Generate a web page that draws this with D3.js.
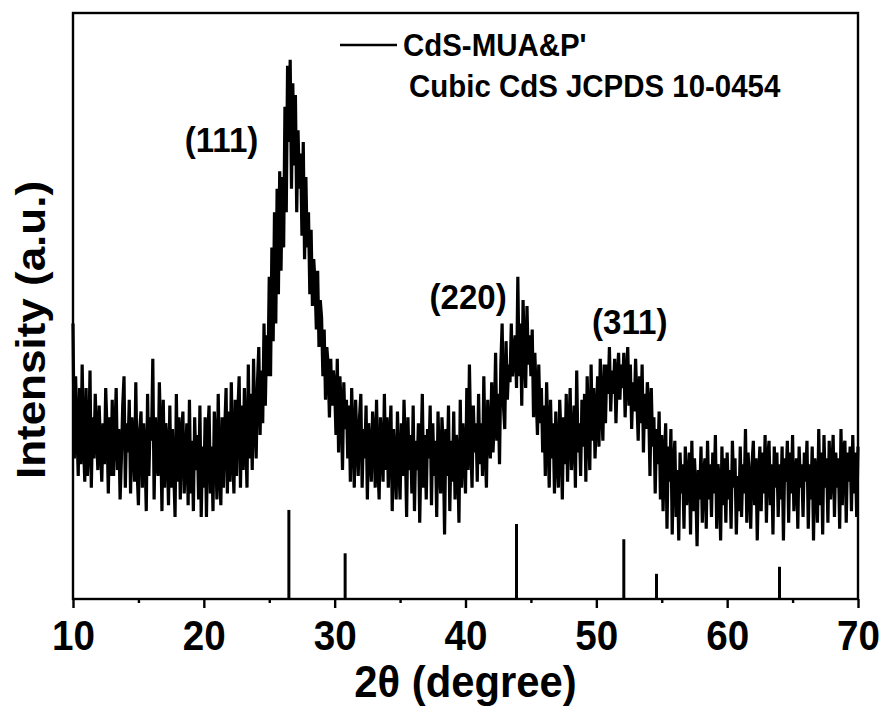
<!DOCTYPE html>
<html>
<head>
<meta charset="utf-8">
<script src="https://cdn.jsdelivr.net/npm/d3@7"></script>
<style>
  body { margin: 0; background: #fff; }
  text { font-family: "Liberation Sans", Arial, sans-serif; font-weight: bold; fill: #000; }
</style>
</head>
<body>
<div id="chart"></div>
<script>
// angle grid of the scan (degrees 2θ)
const startAngle = 10;
const stepAngle = 0.1;

// intensity, one row per degree (a.u., 0 = x axis, 100 = top frame)
const intensity = [
  47,24,38,29,21,36,23,40,27,20, // 10
  36,21,26,39,19,31,24,35,28,22, // 11
  33,26,20,30,23,36,29,18,31,21, // 12
  34,21,28,36,22,29,17,24,33,38, // 13
  19,30,25,34,18,31,27,20,37,22, // 14
  16,29,32,19,30,25,15,35,21,31, // 15
  27,41,17,31,24,21,37,28,15,34, // 16
  19,30,26,16,33,19,29,22,14,35, // 17
  20,31,17,28,32,18,24,30,16,34, // 18
  18,27,15,31,22,28,17,33,14,26, // 19
  19,31,14,28,33,18,26,15,32,27, // 20
  17,35,22,16,31,19,29,36,18,32, // 21
  20,37,25,18,34,21,32,38,19,33, // 22
  22,36,27,19,40,24,35,22,41,30, // 23
  24,37,43,28,39,30,47,33,45,38, // 24
  55,38,60,44,66,47,70,52,73,56, // 25
  72,60,84,66,91,78,92,70,88,74, // 26
  86,66,80,70,76,62,78,58,72,60, // 27
  66,52,63,50,58,54,46,56,43,51, // 28
  48,38,46,34,43,40,31,41,33,39, // 29
  36,28,41,25,38,33,22,37,29,34, // 30
  24,33,20,36,28,19,34,27,21,31, // 31
  35,19,29,24,33,17,30,26,20,32, // 32
  28,19,34,23,17,31,26,20,35,22, // 33
  31,19,27,33,15,29,24,17,32,23, // 34
  17,30,21,34,26,14,31,22,28,18, // 35
  33,15,27,22,30,13,25,35,19,28, // 36
  17,29,24,33,16,30,21,27,14,32, // 37
  23,18,31,26,11,29,21,33,15,27, // 38
  20,32,17,28,24,13,34,19,30,25, // 39
  18,36,22,40,27,19,33,25,30,20, // 40
  35,23,30,21,38,26,19,34,28,24, // 41
  37,25,30,42,27,35,23,40,47,33, // 42
  29,44,34,40,37,47,38,42,45,36, // 43
  55,38,47,33,51,42,36,50,40,45, // 44
  38,46,31,42,35,28,40,30,36,25, // 45
  33,21,37,28,19,34,24,30,18,32, // 46
  24,19,34,28,17,31,23,35,20,29, // 47
  36,22,27,33,19,39,25,30,21,34, // 48
  26,35,20,38,29,22,40,27,36,24, // 49
  31,38,26,41,33,27,40,30,40,35, // 50
  43,32,39,35,41,30,38,42,34,40, // 51
  36,42,31,38,43,33,40,29,37,32, // 52
  41,34,27,38,30,40,25,35,29,37, // 53
  33,21,36,26,31,18,29,23,32,17, // 54
  28,15,24,30,12,26,20,29,11,23, // 55
  27,14,22,10,25,18,23,12,26,16, // 56
  20,25,11,27,15,24,19,9,22,17,  // 57
  26,13,21,24,12,27,17,23,14,25, // 58
  18,28,12,23,20,10,26,16,24,13, // 59
  25,17,22,12,27,19,24,11,21,15, // 60
  26,14,23,18,29,13,25,20,12,23, // 61
  27,16,24,10,21,26,15,25,18,28, // 62
  13,24,27,16,23,11,26,19,25,14, // 63
  23,17,26,10,24,20,27,13,25,18, // 64
  28,15,21,24,12,26,19,23,14,25, // 65
  20,27,12,23,17,26,10,24,21,13, // 66
  29,16,25,11,28,19,24,13,27,17, // 67
  22,28,14,25,19,24,12,29,16,26, // 68
  27,13,25,20,26,15,28,18,25,14, // 69
  26                             // 70
];

// reference pattern, cubic CdS JCPDS 10-0454
const jcpdsAngles = [26.5, 30.8, 43.9, 52.1, 54.6, 64.0];
const jcpdsHeights = [15.2, 7.8, 12.8, 10.2, 4.3, 5.5];

// peak labels
const peakLabels = ["(111)", "(220)", "(311)"];
const peakLabelAngles = [21.35, 40.2, 52.55];
const peakLabelLevels = [78.5, 51.7, 47.4];

const xTicks = [10, 20, 30, 40, 50, 60, 70];
const legendLabels = ["CdS-MUA&P'", "Cubic CdS JCPDS 10-0454"];

const width = 885;
const height = 709;
const margin = { top: 13, right: 27, bottom: 110, left: 73 };
const squeeze = 0.92; // the fonts in the picture are a bit narrow

const svg = d3.select("#chart")
  .append("svg")
  .attr("width", width)
  .attr("height", height);

const x = d3.scaleLinear()
  .domain([10, 70])
  .range([margin.left, width - margin.right]);

const y = d3.scaleLinear()
  .domain([0, 100])
  .range([height - margin.bottom, margin.top]);

const scan = intensity.map((v, i) => ({ angle: startAngle + i * stepAngle, value: v }));

// measured pattern
const line = d3.line()
  .x(d => x(d.angle))
  .y(d => y(d.value));

svg.append("path")
  .datum(scan)
  .attr("d", line)
  .attr("fill", "none")
  .attr("stroke", "#000")
  .attr("stroke-width", 3.2)
  .attr("stroke-linejoin", "miter");

// JCPDS sticks
svg.selectAll(".stick")
  .data(jcpdsAngles)
  .enter()
  .append("line")
  .attr("class", "stick")
  .attr("x1", d => x(d))
  .attr("x2", d => x(d))
  .attr("y1", y(0))
  .attr("y2", (d, i) => y(jcpdsHeights[i]))
  .attr("stroke", "#000")
  .attr("stroke-width", 3);

// frame
svg.append("rect")
  .attr("x", x(10))
  .attr("y", y(100))
  .attr("width", x(70) - x(10))
  .attr("height", y(0) - y(100))
  .attr("fill", "none")
  .attr("stroke", "#000")
  .attr("stroke-width", 2.4);

// bottom axis, major + minor ticks
const xAxis = d3.axisBottom(x)
  .tickValues(xTicks)
  .tickSize(9)
  .tickFormat(d3.format("d"));

const gx = svg.append("g")
  .attr("transform", "translate(0," + y(0) + ")")
  .call(xAxis);
gx.select(".domain").remove();
gx.selectAll(".tick line").attr("stroke-width", 2.4);
gx.selectAll(".tick text")
  .attr("y", 0)
  .attr("dy", 0)
  .attr("transform", "translate(0,51) scale(" + squeeze + ",1)")
  .style("font-size", "42px")
  .style("font-family", "'Liberation Sans', Arial, sans-serif")
  .style("font-weight", "bold");

const gxMinor = svg.append("g")
  .attr("transform", "translate(0," + y(0) + ")")
  .call(d3.axisBottom(x).tickValues([15, 25, 35, 45, 55, 65]).tickSize(4).tickFormat(""));
gxMinor.select(".domain").remove();
gxMinor.selectAll(".tick line").attr("stroke-width", 2.4);

// axis titles
svg.append("text")
  .attr("text-anchor", "middle")
  .attr("transform", "translate(" + x(40) + ",697) scale(0.93,1)")
  .style("font-size", "45px")
  .text("2θ (degree)");

svg.append("text")
  .attr("text-anchor", "middle")
  .attr("transform", "translate(45,330) scale(" + squeeze + ",1) rotate(-90)")
  .style("font-size", "44px")
  .text("Intensity (a.u.)");

// peak labels
svg.selectAll(".peak")
  .data(peakLabels)
  .enter()
  .append("text")
  .attr("class", "peak")
  .attr("text-anchor", "middle")
  .attr("transform", (d, i) => "translate(" + x(peakLabelAngles[i]) + "," + (y(peakLabelLevels[i]) + 13) + ") scale(" + squeeze + ",1)")
  .style("font-size", "36px")
  .text(d => d);

// legend
svg.append("line")
  .attr("x1", 340)
  .attr("x2", 397)
  .attr("y1", 45)
  .attr("y2", 45)
  .attr("stroke", "#000")
  .attr("stroke-width", 2.6);

svg.selectAll(".legend")
  .data(legendLabels)
  .enter()
  .append("text")
  .attr("class", "legend")
  .attr("transform", (d, i) => "translate(" + (i === 0 ? 403 : 409) + "," + (56 + i * 41) + ") scale(" + squeeze + ",1)")
  .style("font-size", "32px")
  .text(d => d);
</script>
</body>
</html>
